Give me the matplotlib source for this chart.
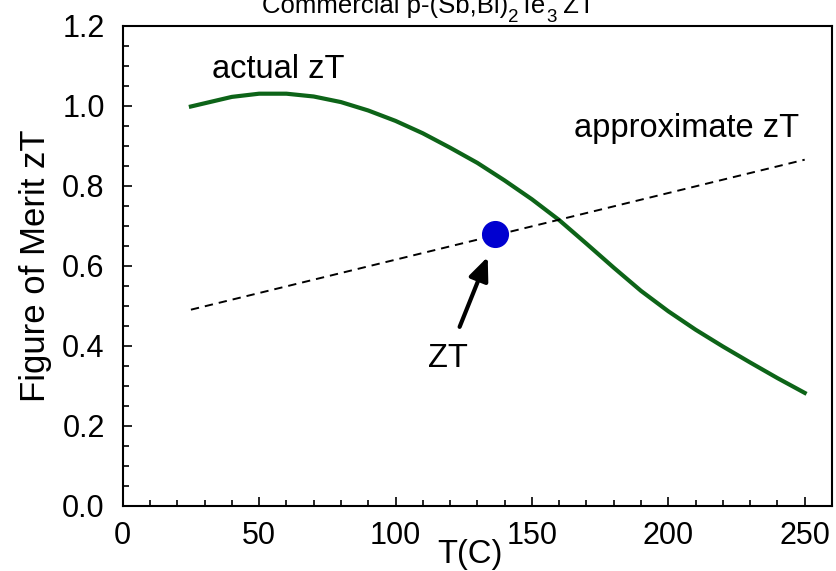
import matplotlib
matplotlib.use("Agg")
import matplotlib.pyplot as plt
from matplotlib.ticker import MultipleLocator, FormatStrFormatter

plt.rcParams['font.family'] = ['Liberation Sans', 'DejaVu Sans']
plt.rcParams['lines.scale_dashes'] = False

# actual zT curve
T_actual = [25, 40, 50, 60, 70, 80, 90, 100, 110, 120, 130, 140, 150,
            160, 170, 180, 190, 200, 210, 220, 230, 240, 250]
zT_actual = [0.998, 1.022, 1.030, 1.030, 1.023, 1.009, 0.988, 0.962, 0.931,
             0.895, 0.857, 0.813, 0.766, 0.714, 0.655, 0.595, 0.537, 0.486,
             0.440, 0.398, 0.358, 0.319, 0.282]

# linear approximation
T_approx = [25, 250]
zT_approx = [0.49, 0.865]

# the ZT point
T_point = 136.6
zT_point = 0.678

# title pieces: (text, is_subscript)
title_parts = [('Commercial p-(Sb,Bi)', False), ('2', True), ('Te', False),
               ('3', True), (' ZT', False)]

W, H = 836, 571
fig = plt.figure(figsize=(W / 100, H / 100), dpi=100)
ax = fig.add_axes([0.1468, 0.1144, 0.8484, 0.8406])

ax.plot(T_actual, zT_actual, color='#0d6418', lw=3.0)
ax.plot(T_approx, zT_approx, color='black', lw=1.4, dashes=(6, 4.3))
ax.plot([T_point], [zT_point], 'o', color='#0000d0', ms=18.5, zorder=5)

ax.annotate('', xy=(133.8, 0.622), xytext=(123.5, 0.447),
            arrowprops=dict(arrowstyle='-|>,head_length=0.7,head_width=0.3',
                            lw=3.0, color='black', mutation_scale=20,
                            shrinkA=0, shrinkB=0))

fs = 22
fs_note = 23.5
ax.text(32.6, 1.069, 'actual zT', fontsize=fs_note, ha='left', va='baseline')
ax.text(165.6, 0.922, 'approximate zT', fontsize=fs_note, ha='left', va='baseline')
ax.text(119.3, 0.3475, 'ZT', fontsize=fs_note, ha='center', va='baseline')

ax.set_xlim(0, 260)
ax.set_ylim(0, 1.2)
ax.xaxis.set_major_locator(MultipleLocator(50))
ax.xaxis.set_minor_locator(MultipleLocator(10))
ax.yaxis.set_major_locator(MultipleLocator(0.2))
ax.yaxis.set_minor_locator(MultipleLocator(0.05))
ax.yaxis.set_major_formatter(FormatStrFormatter('%.1f'))

ax.tick_params(which='both', direction='in', top=False, right=False,
               labelsize=fs, width=1.2)
ax.tick_params(which='major', length=6.5)
ax.tick_params(which='minor', length=4)
ax.tick_params(axis='x', pad=11)
ax.tick_params(axis='y', pad=13)
for s in ax.spines.values():
    s.set_linewidth(1.5)

ax.set_xlabel('T(C)', fontsize=fs_note)
ax.xaxis.set_label_coords((470 - 122.7) / 709.3, (505.7 - 539) / 480)
ax.set_ylabel('Figure of Merit zT', fontsize=25)
ax.yaxis.set_label_coords((52 - 122.7) / 709.3, 0.5)

# title, clipped at the top like the original, built piece by piece
fig.canvas.draw()
renderer = fig.canvas.get_renderer()
x = 262
for txt, sub in title_parts:
    size = 13.5 if sub else 18.5
    y = 22.5 if sub else 13
    t = fig.text(x / W, 1 - y / H, txt, fontsize=size, ha='left', va='baseline')
    x += t.get_window_extent(renderer).width

fig.savefig('out.png', dpi=100)
